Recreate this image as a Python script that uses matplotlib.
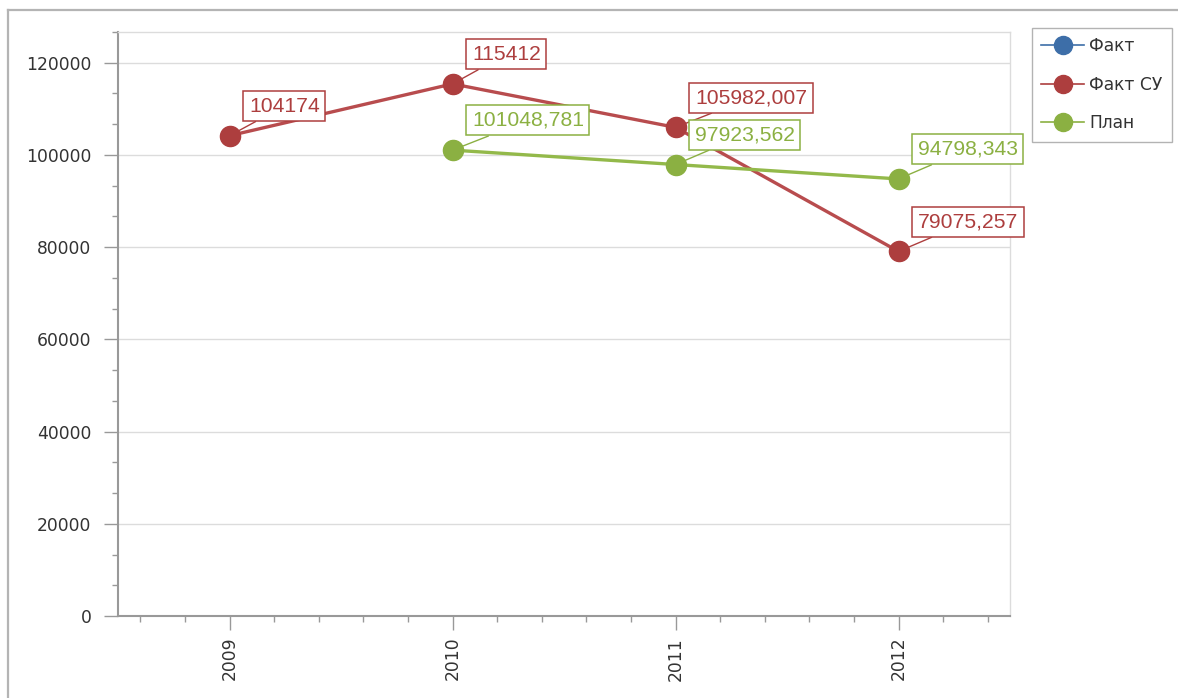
import matplotlib
matplotlib.use("Agg")
import matplotlib.pyplot as plt
from matplotlib.lines import Line2D
from matplotlib.ticker import MultipleLocator

years = ["2009", "2010", "2011", "2012"]
fact = [None, None, None, None]
fact_su = [104174, 115412, 105982.007, 79075.257]
plan = [None, 101048.781, 97923.562, 94798.343]

fact_su_labels = ["104174", "115412", "105982,007", "79075,257"]
plan_labels = [None, "101048,781", "97923,562", "94798,343"]

blue = "#3d6ea8"
red = "#ad3e3e"
green = "#8bb042"

plt.rcParams['font.family'] = ['DejaVu Sans']

fig = plt.figure(figsize=(11.78, 6.98), dpi=100)
ax = fig.add_axes([118 / 1178, 82 / 698, 892 / 1178, 584 / 698])

# outer frame of the control
fig.add_artist(Line2D([8 / 1178, 8 / 1178], [0, 1 - 10 / 698], transform=fig.transFigure,
                      color="#b4b4b4", lw=1.6))
fig.add_artist(Line2D([8 / 1178, 1], [1 - 10 / 698, 1 - 10 / 698], transform=fig.transFigure,
                      color="#b4b4b4", lw=1.6))

x = list(range(len(years)))


def plot_series(vals, labels, color, line_color):
    xs = [i for i, v in zip(x, vals) if v is not None]
    ys = [v for v in vals if v is not None]
    ax.plot(xs, ys, color=line_color, lw=2.4, zorder=3)
    ax.plot(xs, ys, ls="none", marker="o", ms=14.5, color=color, zorder=4)
    for i, v, lab in zip(x, vals, labels):
        if v is None:
            continue
        ax.annotate(lab, (i, v), xytext=(14, 14.5), textcoords="offset points",
                    ha="left", va="bottom", fontsize=15.2, family=["Liberation Sans"],
                    color=color, zorder=6,
                    bbox=dict(boxstyle="square,pad=0.26", fc="white", ec=color, lw=1.1),
                    arrowprops=dict(arrowstyle="-", color=color, lw=1, shrinkA=0, shrinkB=0))


plot_series(fact_su, fact_su_labels, red, "#b84c4e")
plot_series(plan, plan_labels, green, "#93b94a")

ax.set_xlim(-0.5, 3.5)
ax.set_ylim(0, 126666.7)
ax.set_xticks(x)
ax.set_xticklabels(years, rotation=90, fontsize=12.3, color="#333333")
ax.xaxis.set_minor_locator(MultipleLocator(0.2))
ax.yaxis.set_major_locator(MultipleLocator(20000))
ax.yaxis.set_minor_locator(MultipleLocator(20000 / 3))
ax.tick_params(axis="y", labelsize=12.3, labelcolor="#333333")
ax.tick_params(which="major", length=10, width=1, color="#999999")
ax.tick_params(axis="y", which="major", pad=9)
ax.tick_params(axis="x", which="major", pad=5)
ax.tick_params(which="minor", length=4, width=1, color="#999999")
ax.grid(axis="y", which="major", color="#dcdcdc", lw=1)
ax.set_axisbelow(True)

for side in ["left", "bottom"]:
    ax.spines[side].set_color("#999999")
    ax.spines[side].set_linewidth(1.5)
for side in ["top", "right"]:
    ax.spines[side].set_color("#dcdcdc")
    ax.spines[side].set_linewidth(1)

handles = [
    Line2D([], [], color=blue, lw=1.2, marker="o", ms=13),
    Line2D([], [], color=red, lw=1.2, marker="o", ms=13),
    Line2D([], [], color=green, lw=1.2, marker="o", ms=13),
]
leg = fig.legend(handles, ["Факт", "Факт СУ", "План"], loc="upper left",
                 bbox_to_anchor=(1032 / 1178, 1 - 28 / 698), fontsize=12.3,
                 frameon=True, fancybox=False, edgecolor="#a0a0a0",
                 handlelength=2.5, handletextpad=0.3, labelspacing=1.2,
                 borderpad=0.55, borderaxespad=0)
leg.get_frame().set_linewidth(1)
for t in leg.get_texts():
    t.set_color("#333333")

fig.savefig("out.png", dpi=100)
